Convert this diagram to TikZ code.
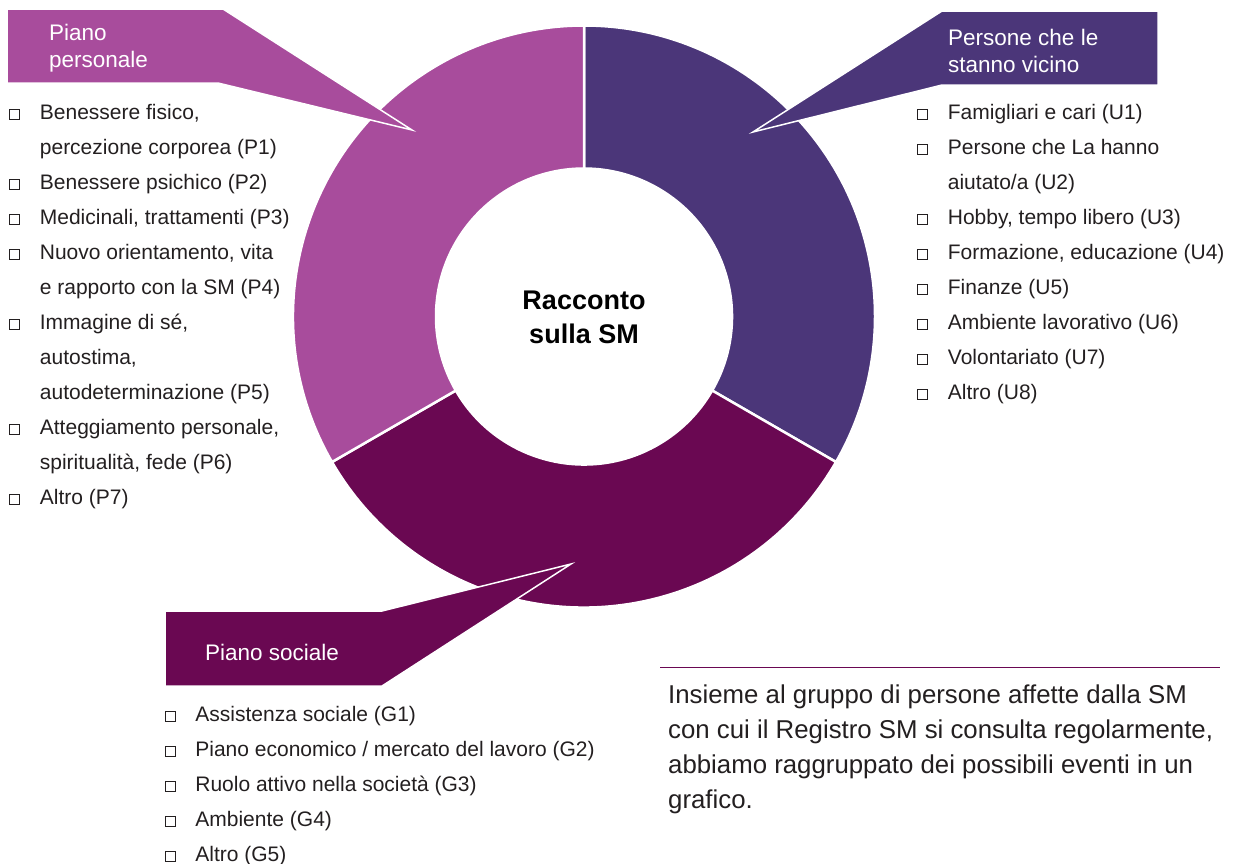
\documentclass[tikz,border=0pt]{standalone}
\usepackage{fontspec}
\setmainfont{Liberation Sans}
\usetikzlibrary{positioning}

\definecolor{colpers}{RGB}{168,76,156}
\definecolor{colvic}{RGB}{75,54,121}
\definecolor{colsoc}{RGB}{106,8,82}
\definecolor{coltext}{RGB}{35,31,32}

\newcommand\cbox{{\setlength\fboxsep{0pt}\setlength\fboxrule{0.6pt}\fbox{\rule{0pt}{9.5pt}\rule{9.5pt}{0pt}}}}

\begin{document}
\begin{tikzpicture}[x=1pt, y=-1pt,
    segment/.style={draw=white, line width=2.5pt},
    callout/.style={draw=white, line width=1.5pt, line join=miter},
    headtext/.style={
        anchor=base west,
        inner sep=0pt,
        text=white,
        font=\fontsize{22.5}{27.5}\selectfont
        },
    listtext/.style={
        anchor=base west,
        inner sep=0pt,
        text=coltext,
        font=\fontsize{21}{35}\selectfont
        },
    bodytext/.style={
        anchor=base west,
        inner sep=0pt,
        text=coltext,
        font=\fontsize{25.8}{35}\selectfont
        }]

    \useasboundingbox (0,0) rectangle (1234,863);

    \coordinate (c) at (584,316.5);

    % ring
    \fill[colvic, segment] ([shift={(c)}]-90:291) arc[start angle=-90, end angle=30, radius=291]
        -- ([shift={(c)}]30:148) arc[start angle=30, end angle=-90, radius=148] -- cycle;
    \fill[colsoc, segment] ([shift={(c)}]30:291) arc[start angle=30, end angle=150, radius=291]
        -- ([shift={(c)}]150:148) arc[start angle=150, end angle=30, radius=148] -- cycle;
    \fill[colpers, segment] ([shift={(c)}]150:291) arc[start angle=150, end angle=270, radius=291]
        -- ([shift={(c)}]270:148) arc[start angle=270, end angle=150, radius=148] -- cycle;

    \node (centre) [font=\fontsize{27}{34}\selectfont\bfseries, align=center, text=black,
        inner sep=0pt, anchor=base] at (584,343) {Racconto\\sulla SM};

    % callouts
    \fill[colpers, callout] (7,9) -- (223,9) -- (412,130) -- (218,83) -- (7,83) -- cycle;
    \fill[colvic, callout] (942,11) -- (1158,11) -- (1158,85) -- (942,85) -- (753,132) -- cycle;
    \fill[colsoc, callout] (165,611) -- (382,611) -- (571,564) -- (382,686) -- (165,686) -- cycle;

    \node (head_pers) [headtext] at (49,40) {\begin{tabular}[t]{@{}l@{}}Piano\\personale\end{tabular}};
    \node (head_vic) [headtext] at (948,45) {\begin{tabular}[t]{@{}l@{}}Persone che le\\stanno vicino\end{tabular}};
    \node (head_soc) [headtext] at (205,660) {Piano sociale};

    % lists
    \node (list_pers) [listtext] at (9,119) {\begin{tabular}[t]{@{}l@{\hspace{20pt}}l@{}}
        \cbox & Benessere fisico,\\
              & percezione corporea (P1)\\
        \cbox & Benessere psichico (P2)\\
        \cbox & Medicinali, trattamenti (P3)\\
        \cbox & Nuovo orientamento, vita\\
              & e rapporto con la SM (P4)\\
        \cbox & Immagine di sé,\\
              & autostima,\\
              & autodeterminazione (P5)\\
        \cbox & Atteggiamento personale,\\
              & spiritualità, fede (P6)\\
        \cbox & Altro (P7)
        \end{tabular}};

    \node (list_vic) [listtext] at (917,119) {\begin{tabular}[t]{@{}l@{\hspace{20pt}}l@{}}
        \cbox & Famigliari e cari (U1)\\
        \cbox & Persone che La hanno\\
              & aiutato/a (U2)\\
        \cbox & Hobby, tempo libero (U3)\\
        \cbox & Formazione, educazione (U4)\\
        \cbox & Finanze (U5)\\
        \cbox & Ambiente lavorativo (U6)\\
        \cbox & Volontariato (U7)\\
        \cbox & Altro (U8)
        \end{tabular}};

    \node (list_soc) [listtext] at (165,721) {\begin{tabular}[t]{@{}l@{\hspace{19.5pt}}l@{}}
        \cbox & Assistenza sociale (G1)\\
        \cbox & Piano economico / mercato del lavoro (G2)\\
        \cbox & Ruolo attivo nella società (G3)\\
        \cbox & Ambiente (G4)\\
        \cbox & Altro (G5)
        \end{tabular}};

    % note
    \draw[colsoc, line width=1pt] (660,667) -- (1220,667);
    \node (note) [bodytext] at (668,703) {\begin{tabular}[t]{@{}l@{}}
        Insieme al gruppo di persone affette dalla SM\\
        con cui il Registro SM si consulta regolarmente,\\
        abbiamo raggruppato dei possibili eventi in un\\
        grafico.
        \end{tabular}};
\end{tikzpicture}
\end{document}
